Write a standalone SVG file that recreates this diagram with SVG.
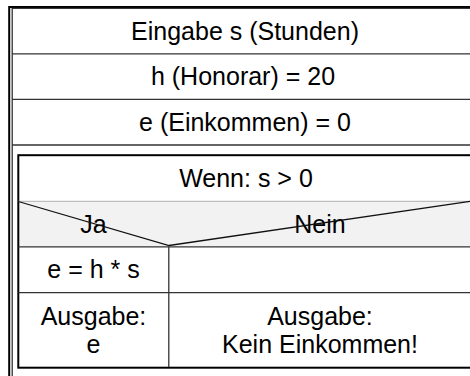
<svg xmlns="http://www.w3.org/2000/svg" width="470" height="376" viewBox="0 0 470 376">
  <style>
    .t { font-family: "Liberation Sans", Arial, Helvetica, sans-serif; font-size: 25px; fill: #000; text-anchor: middle; }
    .thick { fill: none; stroke: #000; stroke-width: 2; }
    .thin { fill: none; stroke: #222; stroke-width: 1.2; }
    .sep { stroke: #333; stroke-width: 1.3; }
    .light { stroke: #b0b0b0; stroke-width: 1; }
    .diag { stroke: #111; stroke-width: 1.3; fill: none; }
  </style>
  <rect x="0" y="0" width="470" height="376" fill="#fff"/>

  <g id="frame">
    <rect class="thick" x="9.2" y="7" width="480" height="380"/>
    <rect class="thin" x="12.2" y="8.3" width="470" height="378"/>
  </g>

  <g id="input-s">
    <text class="t" x="245" y="40">Eingabe s (Stunden)</text>
    <line class="sep" x1="12" y1="53.8" x2="470" y2="53.8"/>
  </g>

  <g id="assign-h">
    <text class="t" x="243" y="85">h (Honorar) = 20</text>
    <line class="sep" x1="12" y1="99.3" x2="470" y2="99.3"/>
  </g>

  <g id="assign-e">
    <text class="t" x="245" y="130.5">e (Einkommen) = 0</text>
    <line class="sep" x1="12" y1="145" x2="470" y2="145"/>
  </g>

  <g id="if-block">
    <rect x="18.3" y="201.5" width="460" height="45" fill="#f2f2f2"/>
    <rect class="thick" x="18.3" y="155.2" width="470" height="212.5"/>
    <text class="t" x="246" y="186.7">Wenn: s &gt; 0</text>
    <line class="light" x1="18.3" y1="201.3" x2="470" y2="201.3"/>
  </g>

  <g id="branch-ja">
    <text class="t" x="93.5" y="232.5">Ja</text>
  </g>

  <g id="branch-nein">
    <text class="t" x="320" y="232.5">Nein</text>
  </g>

  <g id="connectors">
    <polyline class="diag" points="18.3,201.5 169,245.5 470,201.3"/>
    <line class="sep" x1="18.3" y1="246.8" x2="470" y2="246.8"/>
    <line class="sep" x1="168.8" y1="246.8" x2="168.8" y2="367"/>
    <line class="sep" x1="18.3" y1="292.7" x2="470" y2="292.7"/>
  </g>

  <g id="ja-calc">
    <text class="t" x="93.5" y="278.3">e = h * s</text>
  </g>

  <g id="nein-empty"></g>

  <g id="ja-output">
    <text class="t" x="93.5" y="325">Ausgabe:</text>
    <text class="t" x="93.5" y="353">e</text>
  </g>

  <g id="nein-output">
    <text class="t" x="320" y="325">Ausgabe:</text>
    <text class="t" x="320" y="353">Kein Einkommen!</text>
  </g>
</svg>
